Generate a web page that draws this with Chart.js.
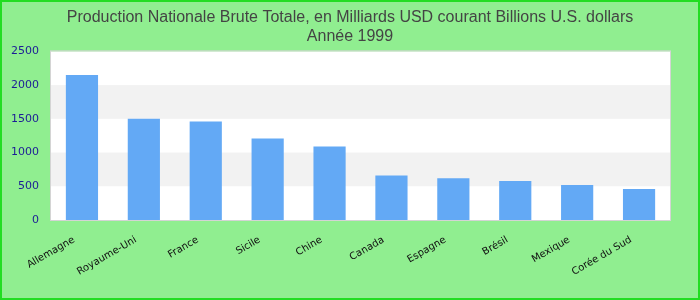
<!DOCTYPE html>
<html>
<head>
<meta charset="utf-8">
<script src="https://cdn.jsdelivr.net/npm/chart.js@4"></script>
<style>
  html, body { margin: 0; padding: 0; background: #90ee90; }
  #wrap { width: 700px; height: 300px; }
</style>
</head>
<body>
<div id="wrap"><canvas id="myChart" width="700" height="300"></canvas></div>
<script>
const countries = ["Allemagne", "Royaume-Uni", "France", "Sicile", "Chine", "Canada", "Espagne", "Brésil", "Mexique", "Corée du Sud"]
const gnp = [2150, 1500, 1460, 1210, 1090, 660, 620, 580, 520, 460]
const yTicks = [0, 500, 1000, 1500, 2000, 2500]
const titleLines = ["Production Nationale Brute Totale, en Milliards USD courant Billions U.S. dollars", "Année 1999"]

// green page, striped plot area, grey frame
const backdrop = {
  id: "backdrop",
  afterLayout(chart) {
    // title centred on the whole canvas, not on the padded box
    if (chart.titleBlock) {
      chart.titleBlock.left = 0
      chart.titleBlock.right = chart.width
    }
  },
  beforeDraw(chart) {
    const ctx = chart.ctx
    const area = chart.chartArea
    const y = chart.scales.y
    ctx.save()
    ctx.fillStyle = "#90ee90"
    ctx.fillRect(0, 0, chart.width, chart.height)
    ctx.strokeStyle = "#22dd22"
    ctx.lineWidth = 2
    ctx.strokeRect(1, 1, chart.width - 2, chart.height - 2)
    ctx.fillStyle = "#ffffff"
    ctx.fillRect(area.left, area.top, area.right - area.left, area.bottom - area.top)
    ctx.fillStyle = "#f2f2f2"
    for (let i = 0; i < yTicks.length - 1; i++) {
      if (i % 2 === 1) {
        const top = y.getPixelForValue(yTicks[i + 1])
        const bot = y.getPixelForValue(yTicks[i])
        ctx.fillRect(area.left, top, area.right - area.left, bot - top)
      }
    }
    ctx.strokeStyle = "#d4d4d4"
    ctx.lineWidth = 1
    ctx.strokeRect(area.left - 0.5, area.top - 0.5, area.right - area.left + 1, area.bottom - area.top + 1)
    ctx.restore()
  }
}

new Chart(document.getElementById("myChart"), {
  type: "bar",
  data: {
    labels: countries,
    datasets: [{
      data: gnp,
      backgroundColor: "#63a9f5",
      borderWidth: 0,
      categoryPercentage: 1,
      barPercentage: 0.52
    }]
  },
  plugins: [backdrop],
  options: {
    responsive: false,
    animation: false,
    layout: { padding: { left: 8, right: 30, top: 4, bottom: 3 } },
    plugins: {
      legend: { display: false },
      tooltip: { enabled: false },
      title: {
        display: true,
        text: titleLines,
        color: "#444444",
        font: { family: "Liberation Sans", size: 16, weight: "normal", lineHeight: 1.2 },
        padding: { top: 4, bottom: 5 }
      }
    },
    scales: {
      x: {
        grid: { display: false, drawTicks: false },
        border: { display: false },
        afterFit: axis => {
          axis.height = 77
          axis.paddingLeft = 0
          axis.paddingRight = 0
        },
        ticks: {
          color: "#111111",
          font: { family: "DejaVu Sans", size: 10 },
          minRotation: 30,
          maxRotation: 30,
          padding: 14,
          labelOffset: -8,
          autoSkip: false
        }
      },
      y: {
        min: 0,
        max: 2500,
        grid: { display: false, drawTicks: false },
        border: { display: false },
        afterBuildTicks: axis => { axis.ticks = yTicks.map(v => ({ value: v })) },
        afterFit: axis => { axis.width = 43 },
        ticks: {
          color: "#1c1c96",
          font: { family: "DejaVu Sans", size: 11 },
          padding: 12,
          callback: v => String(v)
        }
      }
    }
  }
})
</script>
</body>
</html>
